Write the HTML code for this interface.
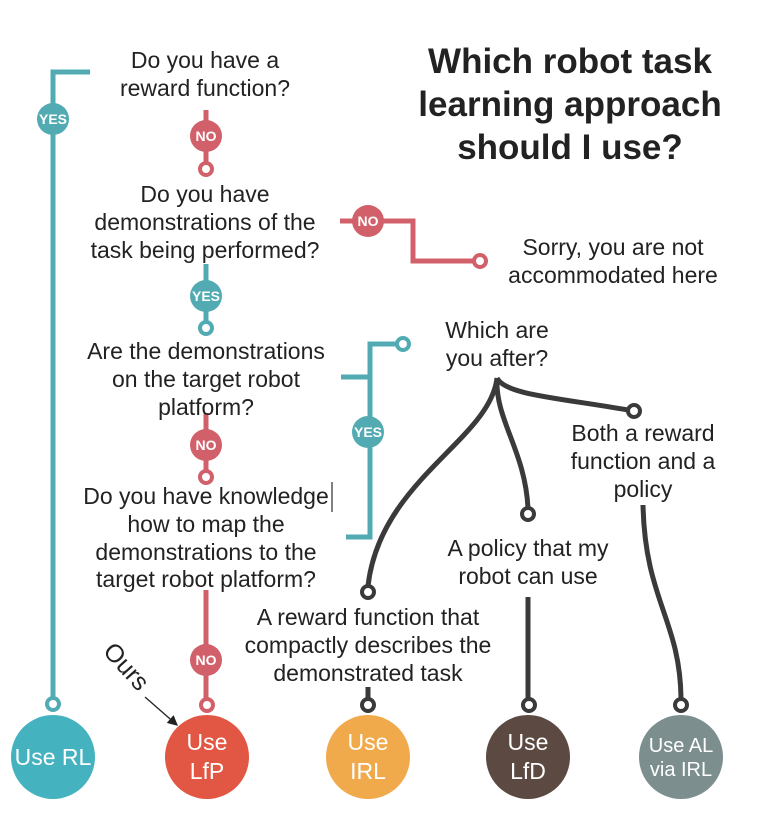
<!DOCTYPE html>
<html><head><meta charset="utf-8"><style>
body{margin:0;background:#fff;}
svg text{font-family:"Liberation Sans",sans-serif;}
</style></head><body>
<svg width="780" height="834" viewBox="0 0 780 834" xmlns="http://www.w3.org/2000/svg">
<defs><marker id="ar" markerWidth="8" markerHeight="8" refX="7" refY="4" orient="auto"><path d="M0,0 L8,4 L0,8 z" fill="#222"/></marker></defs>
<g fill="none" stroke-width="5">
<path d="M90,72 H53 V698" stroke="#52abb2"/>
<circle cx="53" cy="704" r="6" stroke="#52abb2" fill="#fff" stroke-width="4"/>
<path d="M206,110 V163" stroke="#d2606a"/>
<circle cx="206" cy="169" r="6" stroke="#d2606a" fill="#fff" stroke-width="4"/>
<path d="M206,264 V322" stroke="#52abb2"/>
<circle cx="206" cy="328" r="6" stroke="#52abb2" fill="#fff" stroke-width="4"/>
<path d="M340,221 H413 V261 H474" stroke="#d2606a"/>
<circle cx="480" cy="261" r="6" stroke="#d2606a" fill="#fff" stroke-width="4"/>
<path d="M206,413 V471" stroke="#d2606a"/>
<circle cx="206" cy="477" r="6" stroke="#d2606a" fill="#fff" stroke-width="4"/>
<path d="M206,590 V699" stroke="#d2606a"/>
<circle cx="207" cy="705" r="6" stroke="#d2606a" fill="#fff" stroke-width="4"/>
<path d="M341,377 H370 M346,537 H370 V344 H397" stroke="#52abb2"/>
<circle cx="403" cy="344" r="6" stroke="#52abb2" fill="#fff" stroke-width="4"/>
<g stroke="#3a3a3a">
<path d="M497,378 C505,395 560,398 628,410"/>
<path d="M497,378 C495,420 525,450 528,508"/>
<path d="M497,378 C490,440 380,480 368,586"/>
<path d="M643,505 C645,600 680,620 681,698"/>
<path d="M528,597 V698"/>
<path d="M368,687 V699"/>
<circle cx="634" cy="411" r="6" fill="#fff" stroke-width="4"/>
<circle cx="528" cy="514" r="6" fill="#fff" stroke-width="4"/>
<circle cx="368" cy="592" r="6" fill="#fff" stroke-width="4"/>
<circle cx="368" cy="705" r="6" fill="#fff" stroke-width="4"/>
<circle cx="529" cy="705" r="6" fill="#fff" stroke-width="4"/>
<circle cx="681" cy="705" r="6" fill="#fff" stroke-width="4"/>
</g>
</g>
<g font-weight="bold" font-size="14" fill="#fff" text-anchor="middle">
<circle cx="53" cy="119" r="16" fill="#52abb2"/><text x="53" y="124">YES</text>
<circle cx="206" cy="136" r="16" fill="#d2606a"/><text x="206" y="141">NO</text>
<circle cx="206" cy="296" r="16" fill="#52abb2"/><text x="206" y="301">YES</text>
<circle cx="368" cy="221" r="16" fill="#d2606a"/><text x="368" y="226">NO</text>
<circle cx="206" cy="445" r="16" fill="#d2606a"/><text x="206" y="450">NO</text>
<circle cx="206" cy="660" r="16" fill="#d2606a"/><text x="206" y="665">NO</text>
<circle cx="368" cy="432" r="16" fill="#52abb2"/><text x="368" y="437">YES</text>
</g>
<line x1="332" y1="482" x2="332" y2="512" stroke="#000" stroke-width="1"/>
<g font-weight="bold" font-size="35" fill="#222" text-anchor="middle">
<text x="570" y="73">Which robot task</text>
<text x="570" y="116">learning approach</text>
<text x="570" y="159">should I use?</text>
</g>
<g font-size="23" fill="#222" text-anchor="middle">
<text x="205" y="68">Do you have a</text><text x="205" y="96">reward function?</text>
<text x="205" y="202">Do you have</text><text x="205" y="230">demonstrations of the</text><text x="205" y="258">task being performed?</text>
<text x="613" y="255">Sorry, you are not</text><text x="613" y="283">accommodated here</text>
<text x="206" y="359">Are the demonstrations</text><text x="206" y="387">on the target robot</text><text x="206" y="415">platform?</text>
<text x="206" y="504">Do you have knowledge</text><text x="206" y="532">how to map the</text><text x="206" y="560">demonstrations to the</text><text x="206" y="587">target robot platform?</text>
<text x="497" y="338">Which are</text><text x="497" y="366">you after?</text>
<text x="643" y="441">Both a reward</text><text x="643" y="469">function and a</text><text x="643" y="497">policy</text>
<text x="528" y="556">A policy that my</text><text x="528" y="584">robot can use</text>
<text x="368" y="625">A reward function that</text><text x="368" y="653">compactly describes the</text><text x="368" y="681">demonstrated task</text>
</g>
<text x="102" y="652" font-size="25" fill="#222" transform="rotate(48 102 652)">Ours</text>
<line x1="145" y1="697" x2="177" y2="725" stroke="#222" stroke-width="1.3" marker-end="url(#ar)"/>
<circle cx="53" cy="757" r="42" fill="#45b3bf"/>
<circle cx="207" cy="757" r="42" fill="#e15743"/>
<circle cx="368" cy="757" r="42" fill="#f0a94b"/>
<circle cx="528" cy="757" r="42" fill="#5c4a42"/>
<circle cx="681" cy="757" r="42" fill="#7c8e8e"/>
<g fill="#fff" text-anchor="middle" font-size="23">
<text x="53" y="765">Use RL</text>
<text x="207" y="750">Use</text><text x="207" y="779">LfP</text>
<text x="368" y="750">Use</text><text x="368" y="779">IRL</text>
<text x="528" y="750">Use</text><text x="528" y="779">LfD</text>
<text x="681" y="752" font-size="20">Use AL</text><text x="681" y="776" font-size="20">via IRL</text>
</g>
</svg>
</body></html>
